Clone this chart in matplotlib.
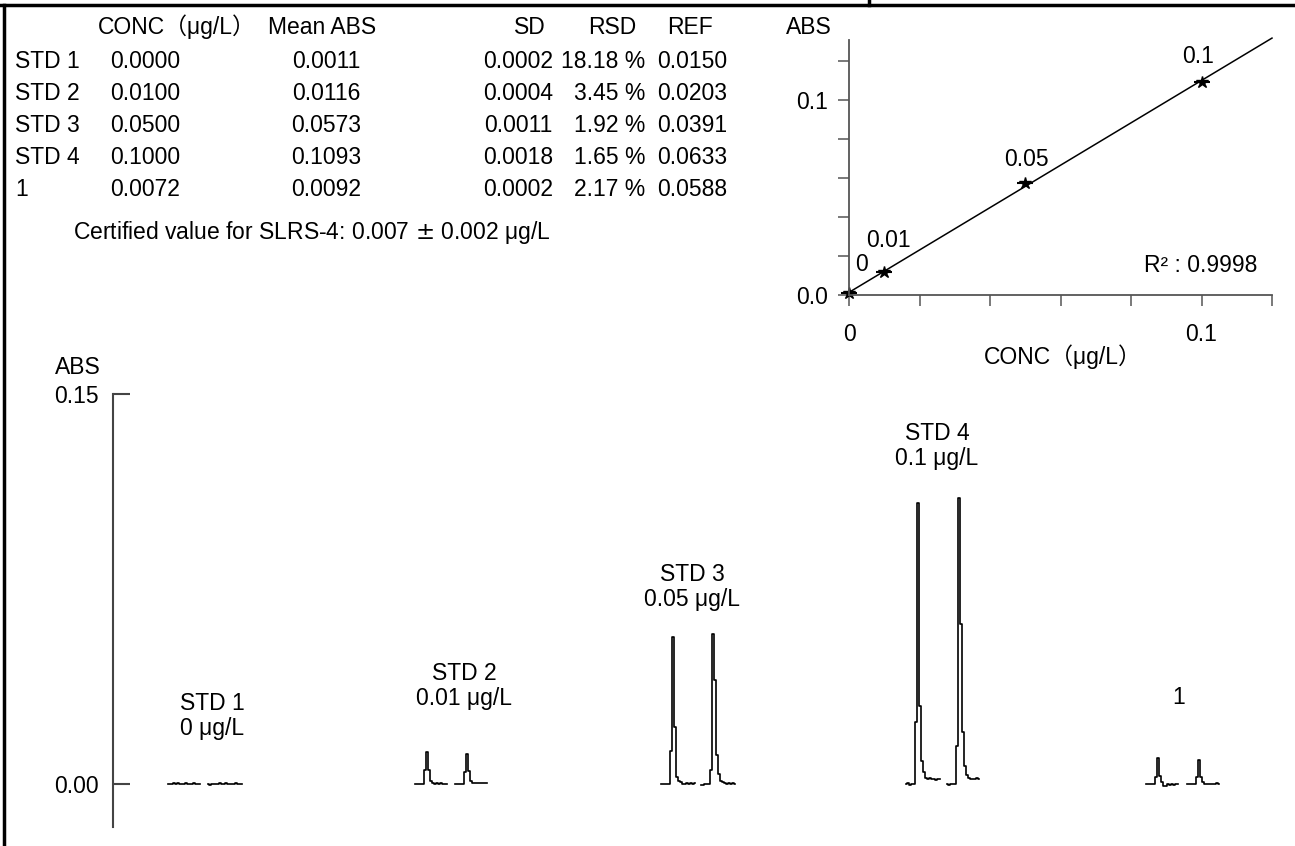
import numpy as np
import matplotlib
matplotlib.use("Agg")
import matplotlib.pyplot as plt
from matplotlib.lines import Line2D

plt.rcParams['font.family'] = ['Liberation Sans', 'Noto Sans CJK JP']

W, H = 1295, 846
FS = 16.5

# ---- table data ----
headers = ["CONC（μg/L）", "Mean ABS", "SD", "RSD", "REF"]
row_names = ["STD 1", "STD 2", "STD 3", "STD 4", "1"]
conc = [0.0000, 0.0100, 0.0500, 0.1000, 0.0072]
mean_abs = [0.0011, 0.0116, 0.0573, 0.1093, 0.0092]
sd = [0.0002, 0.0004, 0.0011, 0.0018, 0.0002]
rsd = [18.18, 3.45, 1.92, 1.65, 2.17]
ref = [0.0150, 0.0203, 0.0391, 0.0633, 0.0588]
certified = "Certified value for SLRS-4: 0.007 $\\pm$ 0.002 μg/L"

# ---- calibration data ----
std_conc = [0.0, 0.01, 0.05, 0.1]
std_abs = [0.0011, 0.0116, 0.0573, 0.1093]
std_labels = ["0", "0.01", "0.05", "0.1"]
r2 = 0.9998

# ---- peak traces (ABS), two replicates per solution ----
group_labels = ["STD 1\n0 μg/L", "STD 2\n0.01 μg/L", "STD 3\n0.05 μg/L",
                "STD 4\n0.1 μg/L", "1"]
std1_a = [0.0000, 0.0002, -0.0001, 0.0003, 0.0000, 0.0004, 0.0001, 0.0002, 0.0000,
          0.0003, 0.0002, 0.0000, 0.0001, 0.0003, 0.0000, 0.0001, 0.0000]
std1_b = [0.0000, -0.0002, 0.0001, 0.0000, 0.0002, 0.0000, 0.0003, 0.0001, 0.0000,
          0.0004, 0.0001, 0.0000, 0.0002, 0.0001, 0.0003, 0.0000, 0.0001, 0.0000]
std2_a = [0.0000, 0.0000, 0.0001, 0.0000, 0.0000, 0.0055, 0.0122, 0.0055, 0.0012,
          0.0004, 0.0002, 0.0003, 0.0001, 0.0004, 0.0002, 0.0002, 0.0001]
std2_b = [0.0000, 0.0001, 0.0000, 0.0000, 0.0000, 0.0045, 0.0115, 0.0050, 0.0012,
          0.0006, 0.0006, 0.0004, 0.0005, 0.0004, 0.0005, 0.0004, 0.0004]
std3_a = [0.0000, 0.0000, 0.0000, 0.0001, 0.0000, 0.0128, 0.0565, 0.0218, 0.0026,
          0.0013, 0.0008, 0.0002, 0.0001, 0.0003, 0.0001, 0.0004, 0.0002, 0.0003]
std3_b = [-0.0004, -0.0003, 0.0000, 0.0000, 0.0002, 0.0054, 0.0577, 0.0400, 0.0110,
          0.0040, 0.0012, 0.0008, 0.0004, 0.0002, 0.0003, 0.0002, 0.0003, 0.0002]
std4_a = [0.0000, 0.0003, -0.0002, 0.0001, 0.0002, 0.0240, 0.1080, 0.0300, 0.0090,
          0.0045, 0.0025, 0.0020, 0.0022, 0.0018, 0.0020, 0.0016, 0.0020, 0.0018]
std4_b = [0.0000, -0.0004, 0.0001, 0.0000, 0.0001, 0.0147, 0.1100, 0.0615, 0.0200,
          0.0070, 0.0035, 0.0025, 0.0020, 0.0018, 0.0020, 0.0022, 0.0018]
smp_a = [0.0000, 0.0000, 0.0000, 0.0000, 0.0001, 0.0026, 0.0099, 0.0032, 0.0007,
         -0.0009, -0.0006, 0.0000, -0.0004, 0.0001, -0.0002, 0.0002, 0.0000]
smp_b = [0.0000, 0.0001, 0.0000, 0.0000, 0.0002, 0.0026, 0.0092, 0.0026, 0.0007,
         0.0000, -0.0001, 0.0000, 0.0000, 0.0002, 0.0001, 0.0004, 0.0001]
traces = [std1_a, std1_b, std2_a, std2_b, std3_a, std3_b, std4_a, std4_b, smp_a, smp_b]

# layout (pixels)
trace_x0 = [168, 208, 415, 455, 661, 701, 906, 947, 1146, 1187]
label_xy = [(212, 716), (464, 686), (692, 587), (937, 446), (1179, 698)]


def fx(x):
    return x / W


def fy(y):
    return 1 - y / H


fig = plt.figure(figsize=(W / 100, H / 100), dpi=100)

# frame lines
fig.add_artist(Line2D([0, 1], [fy(5), fy(5)], color='black', lw=2.5))
fig.add_artist(Line2D([fx(4), fx(4)], [fy(5), 0], color='black', lw=2.5))
fig.add_artist(Line2D([fx(869), fx(869)], [fy(5), 1], color='black', lw=2.5))

# ---- table ----
ty = [62, 94, 126, 158, 190]
fig.text(fx(98), fy(27), headers[0], fontsize=FS, ha='left', va='center')
fig.text(fx(322), fy(27), headers[1], fontsize=FS, ha='center', va='center')
fig.text(fx(530), fy(27), headers[2], fontsize=FS, ha='center', va='center')
fig.text(fx(612), fy(27), headers[3], fontsize=FS, ha='center', va='center')
fig.text(fx(690), fy(27), headers[4], fontsize=FS, ha='center', va='center')
for i in range(len(row_names)):
    y = fy(ty[i])
    fig.text(fx(15), y, row_names[i], fontsize=FS, ha='left', va='center')
    fig.text(fx(110), y, "%.4f" % conc[i], fontsize=FS, ha='left', va='center')
    fig.text(fx(326), y, "%.4f" % mean_abs[i], fontsize=FS, ha='center', va='center')
    fig.text(fx(518), y, "%.4f" % sd[i], fontsize=FS, ha='center', va='center')
    fig.text(fx(645), y, "%.2f %%" % rsd[i], fontsize=FS, ha='right', va='center')
    fig.text(fx(692), y, "%.4f" % ref[i], fontsize=FS, ha='center', va='center')
fig.text(fx(73), fy(232), certified, fontsize=FS, ha='left', va='center')

# ---- calibration plot ----
axc = fig.add_axes([fx(849), fy(295), (1272 - 849) / W, (295 - 40) / H])
axc.set_xlim(0, 0.12)
axc.set_ylim(0, 0.1308)
for s in ['top', 'right']:
    axc.spines[s].set_visible(False)
for s in ['left', 'bottom']:
    axc.spines[s].set_color('#555555')
    axc.spines[s].set_linewidth(1.3)
axc.set_xticks(np.arange(0, 0.121, 0.02))
axc.set_yticks(np.arange(0, 0.121, 0.02))
axc.set_xticklabels(["0", "", "", "", "", "0.1", ""])
axc.set_yticklabels(["0.0", "", "", "", "", "0.1", ""])
axc.tick_params(axis='both', direction='out', length=8, width=1.1, color='#555555',
                labelsize=FS)
axc.tick_params(axis='x', pad=12)
axc.tick_params(axis='y', pad=7)

k, b = np.polyfit(std_conc, std_abs, 1)
xl = np.array([0, 0.12])
axc.plot(xl, k * xl + b, color='black', lw=1.1, clip_on=False)
axc.plot(std_conc, std_abs, ls='none', marker='*', ms=9, color='black', clip_on=False)
axc.plot(std_conc, std_abs, ls='none', marker='_', ms=12, mew=1.5, color='black',
         clip_on=False)
offsets = [(12, 28), (4, 32), (1, 24), (-3, 25)]
for i in range(len(std_conc)):
    axc.annotate(std_labels[i], (std_conc[i], std_abs[i]), xytext=offsets[i],
                 textcoords='offset pixels', ha='center', va='center', fontsize=FS)
axc.text(0.965, 0.115, "R² : %.4f" % r2, transform=axc.transAxes, ha='right',
         va='center', fontsize=FS)
fig.text(fx(809), fy(28), "ABS", fontsize=FS, ha='center', va='center')
fig.text(fx(1063), fy(357), "CONC（μg/L）", fontsize=FS, ha='center', va='center')

# ---- peak profiles ----
axp = fig.add_axes([fx(113), fy(827), (W - 113) / W, (827 - 394) / H])
axp.set_xlim(113, W)
axp.set_ylim(-0.0165, 0.15)
for s in ['top', 'right', 'bottom']:
    axp.spines[s].set_visible(False)
axp.spines['left'].set_color('#444444')
axp.spines['left'].set_linewidth(1.5)
axp.set_xticks([])
axp.set_yticks([0, 0.15])
axp.set_yticklabels(["0.00", "0.15"])
axp.tick_params(axis='y', direction='in', length=12, width=1.5, color='#444444',
                labelsize=FS, pad=10)
for i in range(len(traces)):
    xs = trace_x0[i] + 2 * np.arange(len(traces[i]))
    axp.plot(xs, traces[i], color='black', lw=1.2, drawstyle='steps-mid')
for i in range(len(group_labels)):
    fig.text(fx(label_xy[i][0]), fy(label_xy[i][1]), group_labels[i], fontsize=FS,
             ha='center', va='center', linespacing=1.1)
fig.text(fx(78), fy(368), "ABS", fontsize=FS, ha='center', va='center')

fig.savefig("out.png", dpi=100)
